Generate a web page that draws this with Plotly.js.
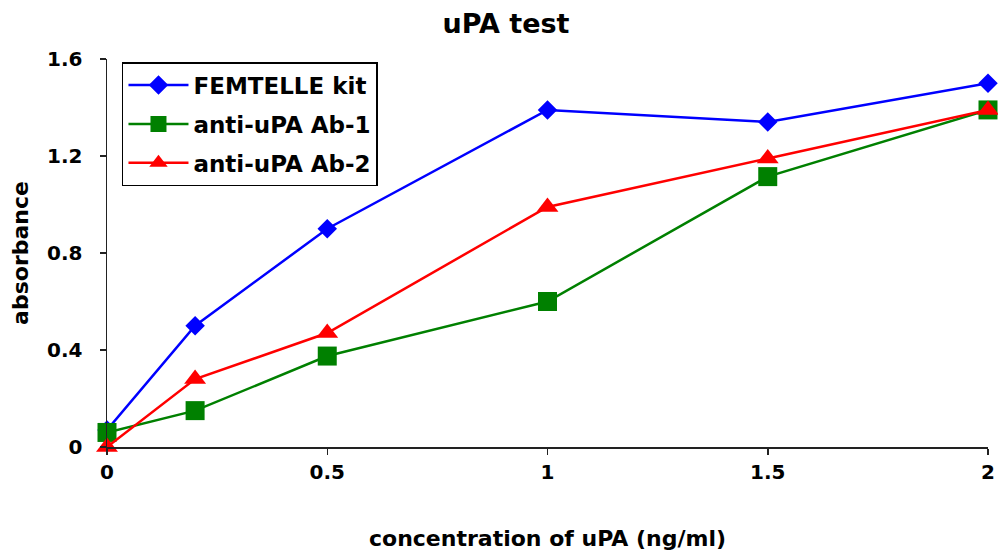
<!DOCTYPE html>
<html>
<head>
<meta charset="utf-8">
<script src="https://cdn.plot.ly/plotly-3.0.1.min.js"></script>
<style>html,body{margin:0;padding:0;background:#fff;}#chart{width:998px;height:553px;}</style>
</head>
<body>
<div id="chart"></div>
<script>
const concentration = [0, 0.2, 0.5, 1, 1.5, 2];
const femtelleKit = [0.07, 0.50, 0.90, 1.39, 1.34, 1.50];
const antiUpaAb1 = [0.06, 0.15, 0.375, 0.60, 1.115, 1.39];
const antiUpaAb2 = [0.00, 0.28, 0.47, 0.99, 1.19, 1.39];
const seriesNames = ["FEMTELLE kit", "anti-uPA Ab-1", "anti-uPA Ab-2"];
const xTicks = [0, 0.5, 1, 1.5, 2];
const yTicks = [0, 0.4, 0.8, 1.2, 1.6];
const yTickLabels = ["0", "0.4", "0.8", "1.2", "1.6"];

const FONT = '"DejaVu Sans", "Liberation Sans", Arial, sans-serif';

function trace(y, name, color, symbol, size, group) {
  return {
    x: concentration, y: y, name: name, type: 'scatter', mode: 'lines+markers',
    line: {color: color, width: 2.5},
    marker: {color: color, symbol: symbol, size: size, line: {width: 0}},
    legendgroup: group, cliponaxis: false
  };
}

const data = [
  trace(femtelleKit, seriesNames[0], '#0000ff', 'diamond', 15, 'a'),
  trace(antiUpaAb1, seriesNames[1], '#008000', 'square', 19, 'b'),
  trace(antiUpaAb2, seriesNames[2], '#ff0000', 'triangle-up', 19, 'c')
];

const tf = {family: FONT, size: 20, color: '#000', weight: 'bold'};
const af = {family: FONT, size: 22, color: '#000', weight: 'bold'};
const lf = {family: FONT, size: 23, color: '#000', weight: 'bold'};

const layout = {
  width: 998, height: 553,
  margin: {l: 107, r: 10, t: 59, b: 106},
  paper_bgcolor: '#fff', plot_bgcolor: '#fff',
  font: tf,
  title: {text: 'uPA test', font: {family: FONT, size: 27, color: '#000', weight: 'bold'},
          x: 0.507, xanchor: 'center', y: 0.957, yanchor: 'middle', xref: 'container', yref: 'container'},
  showlegend: true,
  legend: {x: 0.017, y: 0.992, xanchor: 'left', yanchor: 'top', bordercolor: '#000', borderwidth: 1.5,
           bgcolor: '#fff', font: lf, itemwidth: 60,
           tracegroupgap: 6, traceorder: 'grouped'},
  xaxis: {range: [0, 2], tickvals: xTicks, ticktext: xTicks.map(String), showgrid: false, zeroline: false,
          showline: true, linecolor: '#222', linewidth: 1.5, ticks: 'outside', ticklen: 6, tickcolor: '#222', tickwidth: 1.5,
          tickfont: tf,
          title: {text: 'concentration of uPA (ng/ml)', font: af, standoff: 48},
          fixedrange: true},
  yaxis: {range: [0, 1.6], tickvals: yTicks, ticktext: yTickLabels, showgrid: false, zeroline: false,
          showline: true, linecolor: '#222', linewidth: 1.5, ticks: 'outside', ticklen: 6, tickcolor: '#222', tickwidth: 1.5,
          tickfont: tf, ticklabelstandoff: 13,
          title: {text: 'absorbance', font: af, standoff: 12},
          fixedrange: true}
};

Plotly.newPlot('chart', data, layout, {displayModeBar: false, staticPlot: true});
</script>
</body>
</html>
